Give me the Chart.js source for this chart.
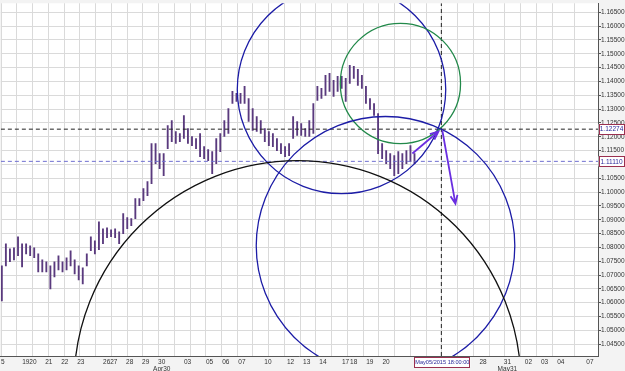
<!DOCTYPE html>
<html>
<head>
<meta charset="utf-8">
<script src="https://cdn.jsdelivr.net/npm/chart.js@4.4.1/dist/chart.umd.min.js"></script>
<style>
  html, body { margin: 0; padding: 0; background: #f3f3f3; }
  #wrap { width: 625px; height: 371px; }
</style>
</head>
<body>
<div id="wrap"><canvas id="grafico"></canvas></div>
<script>
// price bars (4h), x in days from the left edge
const barStart = 0.06;
const barStep = 0.25;
const highs = [
  1.07334, 1.08131, 1.07950, 1.07986, 1.08384, 1.08131, 1.08131, 1.08058, 1.07986, 1.07768,
  1.07551, 1.07479, 1.07334, 1.07479, 1.07696, 1.07479, 1.07624, 1.07877, 1.07551, 1.07334,
  1.07261, 1.07768, 1.08384, 1.08239, 1.08928, 1.08674, 1.08710, 1.08638, 1.08674, 1.08566,
  1.09218, 1.09073, 1.09037, 1.09761, 1.09761, 1.10123, 1.10377, 1.11754, 1.11754, 1.11391,
  1.11391, 1.12406, 1.12587, 1.12189, 1.12116, 1.12768, 1.12297, 1.12007, 1.11935, 1.12116,
  1.11645, 1.11536, 1.11464, 1.11935, 1.12116, 1.12587, 1.13022, 1.13638, 1.13565, 1.13565,
  1.13819, 1.13384, 1.13022, 1.12732, 1.12587, 1.12297, 1.12189, 1.12116, 1.11935, 1.11754,
  1.11645, 1.11754, 1.12732, 1.12551, 1.12478, 1.12297, 1.12587, 1.13203, 1.13819, 1.13746,
  1.14217, 1.14290, 1.14036, 1.14181, 1.14181, 1.14109, 1.14580, 1.14544, 1.14435, 1.14217,
  1.13819, 1.13384, 1.13203, 1.12841, 1.11754, 1.11500, 1.11391, 1.11319, 1.11464, 1.11391,
  1.11500, 1.11681, 1.11391
];
const lows = [
  1.06066, 1.07334, 1.07479, 1.07551, 1.07696, 1.07298, 1.07768, 1.07696, 1.07624, 1.07116,
  1.07116, 1.07116, 1.06500, 1.06935, 1.07189, 1.07116, 1.07189, 1.07334, 1.07044, 1.06827,
  1.06682, 1.07334, 1.07877, 1.07768, 1.07913, 1.08131, 1.08348, 1.08384, 1.08348, 1.08131,
  1.08493, 1.08674, 1.08783, 1.09037, 1.09508, 1.09689, 1.09870, 1.10305, 1.11029, 1.10848,
  1.10594, 1.11573, 1.11826, 1.11754, 1.11826, 1.11935, 1.11754, 1.11681, 1.11573, 1.11283,
  1.11210, 1.11138, 1.10667, 1.11029, 1.11464, 1.12007, 1.12116, 1.13203, 1.13275, 1.13203,
  1.13203, 1.12551, 1.12225, 1.12189, 1.12116, 1.11826, 1.11681, 1.11645, 1.11500, 1.11391,
  1.11283, 1.11319, 1.11935, 1.12044, 1.12044, 1.12007, 1.12007, 1.12116, 1.13312, 1.13384,
  1.13493, 1.13638, 1.13457, 1.13638, 1.13746, 1.13275, 1.13928, 1.14109, 1.13855, 1.13746,
  1.13203, 1.12986, 1.12768, 1.11391, 1.11210, 1.11029, 1.10848, 1.10594, 1.10667, 1.10848,
  1.11029, 1.11102, 1.11029
];

// axes
const xMin = 0, xMax = 36.9;
const yMin = 1.04073, yMax = 1.16826;
const yTicks = [
  1.045, 1.050, 1.055, 1.060, 1.065, 1.070, 1.075, 1.080, 1.085, 1.090, 1.095, 1.100, 1.105,
  1.110, 1.115, 1.120, 1.125, 1.130, 1.135, 1.140, 1.145, 1.150, 1.155, 1.160, 1.165
];
const xTickPos = [0.12, 1.54, 1.98, 2.96, 3.95, 4.94, 6.54, 6.98, 7.96, 8.95, 9.94, 11.54, 12.9, 13.9,
  14.9, 16.5, 17.9, 18.9, 19.9, 21.3, 21.8, 22.8, 23.8, 29.8, 31.3, 32.6, 33.6, 34.6, 36.4];
const xTickLabels = ["5", "19", "20", "21", "22", "23", "26", "27", "28", "29", ["30", "Apr30"], "03", "05", "06",
  "07", "10", "12", "13", "14", "17", "18", "19", "20", "28", ["31", "May31"], "02", "03", "04", "07"];

// drawn objects
const levelHigh = 1.12274;
const levelLow = 1.11110;
const cursorX = 27.22;
const cursorLabel = "May05/2015 18:00:00";
const circleX = [21.05, 24.69, 23.77, 18.33];
const circleY = [1.13710, 1.13928, 1.08058, 1.03059];
const circleR = [0.03768, 0.02174, 0.04674, 0.08079];
const arrowFrom = [[25.43, 1.11392], [27.28, 1.12225]];
const arrowTo = [[27.04, 1.12189], [28.09, 1.09580]];

const circleColors = ["#1c1ca6", "#22894a", "#1c1ca6", "#111111"];
const arrowColor = "#6a2ee0";
const FONT = { family: "'Liberation Sans', Arial, sans-serif", size: 6.5, lineHeight: 1 };

const candles = highs.map((h, i) => ({ x: barStart + i * barStep, y: [lows[i], h] }));
const hLine = (v) => [{ x: xMin, y: v }, { x: xMax, y: v }];

function arrow(ctx, x0, y0, x1, y1) {
    const ang = Math.atan2(y1 - y0, x1 - x0);
    ctx.beginPath();
    ctx.moveTo(x0, y0);
    ctx.lineTo(x1, y1);
    ctx.moveTo(x1 - 9 * Math.cos(ang - 0.4), y1 - 9 * Math.sin(ang - 0.4));
    ctx.lineTo(x1, y1);
    ctx.lineTo(x1 - 9 * Math.cos(ang + 0.4), y1 - 9 * Math.sin(ang + 0.4));
    ctx.stroke();
}

function boxLabel(ctx, text, cx, cy, w) {
    ctx.fillStyle = "#ffffff";
    ctx.fillRect(cx - w / 2, cy - 5, w, 10);
    ctx.strokeStyle = "#9a3050";
    ctx.lineWidth = 1;
    ctx.strokeRect(Math.round(cx - w / 2) + 0.5, Math.round(cy - 5) + 0.5, w - 1, 10);
    ctx.fillStyle = "#2a2a9a";
    ctx.textAlign = "center";
    ctx.textBaseline = "middle";
    ctx.fillText(text, cx, cy + 0.5);
}

const desenhos = {
    id: "desenhos",
    beforeDraw(chart) {
        const { ctx, chartArea: a } = chart;
        ctx.save();
        ctx.fillStyle = "#f3f3f3";
        ctx.fillRect(0, 0, chart.width, chart.height);
        ctx.fillStyle = "#ffffff";
        ctx.fillRect(a.left, a.top, a.right - a.left, a.bottom - a.top);
        ctx.restore();
    },
    afterDatasetsDraw(chart) {
        const { ctx, chartArea: a, scales: { x, y } } = chart;
        ctx.save();
        ctx.beginPath();
        ctx.rect(a.left, a.top, a.right - a.left, a.bottom - a.top);
        ctx.clip();
        circleX.forEach((cx, i) => {
            const px = x.getPixelForValue(cx);
            const py = y.getPixelForValue(circleY[i]);
            const r = Math.abs(y.getPixelForValue(circleY[i] + circleR[i]) - py);
            ctx.beginPath();
            ctx.arc(px, py, r, 0, Math.PI * 2);
            ctx.strokeStyle = circleColors[i];
            ctx.lineWidth = 1.3;
            ctx.stroke();
        });
        ctx.strokeStyle = arrowColor;
        ctx.lineWidth = 1.8;
        arrowFrom.forEach((f, i) => {
            const t = arrowTo[i];
            arrow(ctx, x.getPixelForValue(f[0]), y.getPixelForValue(f[1]),
                x.getPixelForValue(t[0]), y.getPixelForValue(t[1]));
        });
        ctx.restore();
    },
    afterDraw(chart) {
        const { ctx, chartArea: a, scales: { x, y } } = chart;
        ctx.save();
        ctx.font = "6.5px 'Liberation Sans', Arial, sans-serif";
        boxLabel(ctx, levelHigh.toFixed(5), a.right + 13.5, y.getPixelForValue(levelHigh), 26);
        boxLabel(ctx, levelLow.toFixed(5), a.right + 13.5, y.getPixelForValue(levelLow), 26);
        ctx.font = "5.6px 'Liberation Sans', Arial, sans-serif";
        boxLabel(ctx, cursorLabel, x.getPixelForValue(cursorX) + 1, a.bottom + 6, 56);
        ctx.restore();
    }
};

const ctx = document.getElementById("grafico").getContext("2d");
new Chart(ctx, {
    type: "bar",
    data: {
        datasets: [
            {
                type: "line", data: hLine(levelHigh), borderColor: "#222222", borderWidth: 1,
                borderDash: [4, 3], pointRadius: 0, xAxisID: "x", yAxisID: "y"
            },
            {
                type: "line", data: hLine(levelLow), borderColor: "#6f6fd0", borderWidth: 1,
                borderDash: [4, 3], pointRadius: 0, xAxisID: "x", yAxisID: "y"
            },
            {
                type: "line", data: [{ x: cursorX, y: yMin }, { x: cursorX, y: yMax }], borderColor: "#222222",
                borderWidth: 1, borderDash: [4, 3], pointRadius: 0, xAxisID: "x", yAxisID: "y"
            },
            {
                type: "bar", data: candles, backgroundColor: "#5a3a7e", barThickness: 1.2,
                xAxisID: "x", yAxisID: "y"
            }
        ]
    },
    options: {
        responsive: true,
        maintainAspectRatio: false,
        animation: false,
        layout: { padding: 0 },
        plugins: { legend: { display: false }, tooltip: { enabled: false } },
        scales: {
            x: {
                type: "linear", position: "bottom", min: xMin, max: xMax, offset: false,
                grid: { display: false, drawTicks: true, tickLength: 2 },
                border: { display: true, color: "#555555" },
                afterBuildTicks: (s) => { s.ticks = xTickPos.map(v => ({ value: v })); },
                afterFit: (s) => { s.height = 15; },
                ticks: {
                    autoSkip: false, maxRotation: 0, padding: 1, color: "#333333", font: FONT,
                    callback: (v, i) => xTickLabels[i]
                }
            },
            xg: {
                type: "linear", position: "bottom", min: xMin, max: xMax,
                grid: { color: "#dadada", drawTicks: false },
                border: { display: false },
                ticks: { display: false, stepSize: 1 },
                afterFit: (s) => { s.height = 0; }
            },
            y: {
                type: "linear", position: "right", min: yMin, max: yMax,
                grid: { color: "#dadada", tickLength: 3, tickColor: "#555555" },
                border: { display: true, color: "#555555" },
                afterBuildTicks: (s) => { s.ticks = yTicks.map(v => ({ value: v })); },
                afterFit: (s) => { s.width = 27; },
                ticks: { padding: 0, color: "#333333", font: FONT, callback: (v) => v.toFixed(5) }
            }
        }
    },
    plugins: [desenhos]
});
</script>
</body>
</html>
